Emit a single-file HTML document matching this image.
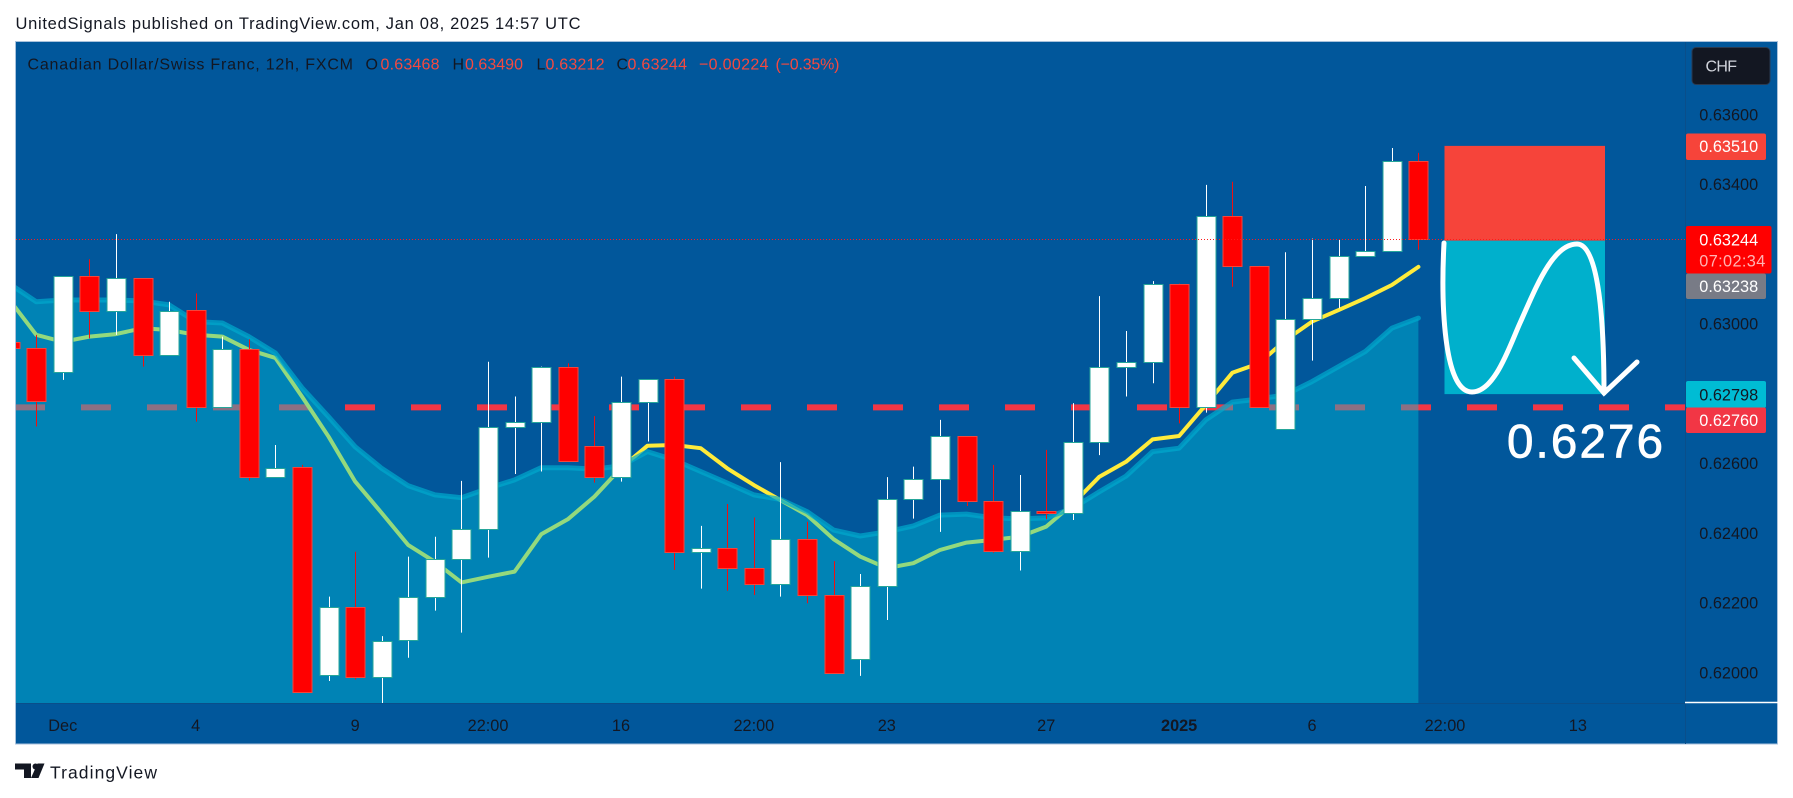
<!DOCTYPE html>
<html lang="en">
<head>
<meta charset="utf-8">
<title>CAD/CHF 12h chart</title>
<style>
html,body{margin:0;padding:0;background:#fff;width:1793px;height:798px;overflow:hidden}
svg{display:block}
text{font-family:"Liberation Sans",sans-serif}
</style>
</head>
<body>
<svg id="chart" xmlns="http://www.w3.org/2000/svg" width="1793" height="798" viewBox="0 0 1793 798">
  <defs>
    <clipPath id="pane-clip"><rect x="16" y="42" width="1670" height="661"/></clipPath>
  </defs>
  <rect x="0" y="0" width="1793" height="798" fill="#ffffff"/>
  <text x="15.5" y="29" font-size="16.5" fill="#131722" textLength="565" lengthAdjust="spacing">UnitedSignals published on TradingView.com, Jan 08, 2025 14:57 UTC</text>
  <rect x="15.5" y="41.5" width="1762" height="702.5" fill="#01579b" stroke="#a9c2dc" stroke-width="1"/>

  <g id="pane" clip-path="url(#pane-clip)"></g>

  <g>
    <rect id="stop-zone" x="1444.5" width="160.5" fill="#f6443a"/>
    <rect id="target-zone" x="1444.5" width="160.5" fill="#00b0cc"/>
    <path d="M1444 243 C1441 300,1443 392,1472 392 C1495 392,1510 345,1520 323 C1535 290,1552 244,1577 244 C1600 244,1604 330,1604 393" fill="none" stroke="#ffffff" stroke-width="5" stroke-linecap="round"/>
    <path d="M1574 358 L1604 393 L1637 362" fill="none" stroke="#ffffff" stroke-width="5" stroke-linecap="round" stroke-linejoin="miter"/>
    <text x="1507" y="457.5" font-size="47.5" fill="#ffffff" stroke="#ffffff" stroke-width="0.8" textLength="156" lengthAdjust="spacing">0.6276</text>
  </g>

  <line x1="16" x2="1686" y1="239.5" y2="239.5" stroke="#ff1a1a" stroke-width="1" stroke-dasharray="1 2"/>

  <g font-size="16">
    <text x="27.5" y="69.5" fill="#131722" textLength="325.5" lengthAdjust="spacing">Canadian Dollar/Swiss Franc, 12h, FXCM</text>
    <text x="365.5" y="69.5" fill="#131722">O</text>
    <text x="380.5" y="69.5" fill="#f6493f" textLength="59" lengthAdjust="spacing">0.63468</text>
    <text x="452.5" y="69.5" fill="#131722">H</text>
    <text x="465" y="69.5" fill="#f6493f" textLength="58" lengthAdjust="spacing">0.63490</text>
    <text x="536.5" y="69.5" fill="#131722">L</text>
    <text x="545.5" y="69.5" fill="#f6493f" textLength="59" lengthAdjust="spacing">0.63212</text>
    <text x="616.5" y="69.5" fill="#131722">C</text>
    <text x="627.5" y="69.5" fill="#f6493f" textLength="59.5" lengthAdjust="spacing">0.63244</text>
    <text x="699" y="69.5" fill="#f6493f" textLength="69.5" lengthAdjust="spacing">−0.00224</text>
    <text x="775.5" y="69.5" fill="#f6493f" textLength="64" lengthAdjust="spacing">(−0.35%)</text>
  </g>

  <line x1="1685.5" x2="1685.5" y1="42" y2="744" stroke="#0a4e8a" stroke-width="1"/>
  <line x1="16" x2="1686" y1="703.5" y2="703.5" stroke="#0a4e8a" stroke-width="1"/>
  <line x1="1685" x2="1778" y1="702.5" y2="702.5" stroke="#ffffff" stroke-width="1.5"/>

  <g id="price-axis"></g>
  <g id="time-axis"></g>

  <g>
    <rect x="1692" y="47.5" width="78" height="37" rx="4" fill="#131722" stroke="#2a3a50" stroke-width="1"/>
    <text x="1705.5" y="71.5" font-size="16" fill="#d1d4dc" textLength="31.5" lengthAdjust="spacing">CHF</text>
  </g>

  <g font-size="16.3">
    <rect x="1686" y="133.5" width="80" height="26.5" rx="2" fill="#f6443a"/>
    <text x="1699.3" y="152.2" fill="#ffffff">0.63510</text>
    <rect x="1686" y="226" width="85.5" height="47.5" rx="2" fill="#ff0000"/>
    <text x="1699.3" y="245.5" fill="#ffffff">0.63244</text>
    <text x="1699.3" y="266.5" fill="#ffb3b3" textLength="66" lengthAdjust="spacing">07:02:34</text>
    <rect x="1686" y="273.5" width="80" height="25.5" rx="2" fill="#787b86"/>
    <text x="1699.3" y="291.8" fill="#ffffff">0.63238</text>
    <rect x="1686" y="381" width="80" height="27" rx="2" fill="#00bcd4"/>
    <text x="1699.3" y="400.3" fill="#131722">0.62798</text>
    <rect x="1686" y="407.5" width="80" height="25.5" rx="2" fill="#f23645"/>
    <text x="1699.3" y="425.8" fill="#ffffff">0.62760</text>
  </g>

  <g>
    <path d="M15 763.5 H31 V778 H24 V769.5 H15 Z" fill="#131722"/>
    <circle cx="35.5" cy="766.5" r="3" fill="#131722"/>
    <path d="M37.5 763.5 H44.5 L38.5 778 H31 Z" fill="#131722"/>
    <text x="50" y="778.5" font-size="17.5" fill="#131722" textLength="107" lengthAdjust="spacing">TradingView</text>
  </g>
</svg>

<script>
// Chart data
const opens = [.62947,.62929,.62861,.63136,.63036,.63130,.62911,.63038,.62760,.62927,.62560,.62588,.61992,.62187,.61986,.62093,.62217,.62326,.62412,.62705,.62719,.62877,.62648,.62560,.62776,.62841,.62344,.62358,.62299,.62253,.62383,.62221,.62038,.62249,.62496,.62554,.62677,.62491,.62347,.62464,.62458,.62660,.62877,.62891,.63115,.62760,.63310,.63166,.62697,.63014,.63075,.63195,.63209,.63468];
const highs = [.62947,.62968,.63136,.63185,.63257,.63130,.63063,.63087,.62963,.62955,.62652,.62595,.62217,.62346,.62104,.62332,.62389,.62549,.62891,.62791,.62877,.62886,.62735,.62848,.62841,.62848,.62420,.62483,.62444,.62603,.62432,.62319,.62282,.62560,.62590,.62724,.62677,.62595,.62566,.62638,.62772,.63079,.62979,.63122,.63115,.63398,.63407,.63166,.63205,.63244,.63242,.63395,.63504,.63490];
const lows = [.62929,.62705,.62839,.62958,.62968,.62877,.62911,.62719,.62760,.62550,.62560,.61945,.61975,.61980,.61910,.62042,.62177,.62114,.62329,.62569,.62576,.62607,.62544,.62547,.62662,.62294,.62240,.62234,.62222,.62217,.62198,.61999,.61990,.62150,.62441,.62403,.62477,.62343,.62292,.62439,.62437,.62623,.62791,.62829,.62714,.62745,.63106,.62760,.62697,.62894,.63044,.63195,.63209,.63212];
const closes = [.62929,.62777,.63136,.63036,.63130,.62911,.63037,.62760,.62927,.62560,.62587,.61945,.62186,.61986,.62091,.62217,.62326,.62412,.62705,.62719,.62877,.62607,.62560,.62776,.62841,.62344,.62358,.62299,.62253,.62383,.62221,.61999,.62249,.62496,.62554,.62677,.62491,.62347,.62464,.62458,.62660,.62877,.62891,.63115,.62760,.63310,.63166,.62760,.63014,.63075,.63195,.63209,.63466,.63244];
const slowAverage = [.63114,.63063,.63068,.63068,.63068,.63065,.63054,.63006,.63002,.62963,.62916,.62816,.62733,.62647,.62585,.62535,.62509,.62501,.62528,.62552,.62587,.62587,.62583,.62592,.62633,.62609,.62576,.62543,.62509,.62496,.62461,.62408,.62391,.62403,.62420,.62451,.62454,.62443,.62440,.62443,.62471,.62518,.62563,.62633,.62643,.62724,.62775,.62784,.62796,.62834,.62877,.62920,.62987,.63016];
const fastAverage = [.63068,.62968,.62948,.62963,.62970,.62987,.62982,.62968,.62963,.62925,.62902,.62791,.62676,.62547,.62457,.62365,.62317,.62258,.62274,.62289,.62396,.62439,.62504,.62586,.62650,.62652,.62643,.62585,.62537,.62494,.62451,.62382,.62332,.62299,.62313,.62351,.62372,.62380,.62389,.62418,.62483,.62561,.62604,.62668,.62678,.62767,.62859,.62886,.62953,.63006,.63039,.63073,.63111,.63163];
const priceTicks = [.636,.634,.630,.626,.624,.622,.620];
const priceTickLabels = ['0.63600','0.63400','0.63000','0.62600','0.62400','0.62200','0.62000'];
const timeTickBars = [2,7,13,18,23,28,33,39,44,49,54,59];
const timeTickLabels = ['Dec','4','9','22:00','16','22:00','23','27','2025','6','22:00','13'];
const dashedLevel = .6276;
const stopPrice = .6351;
const entryPrice = .63238;
const targetPrice = .62798;

// Axis functions
function xScale(bar){ return 36.2 + (bar - 1) * 26.58; }
function yScale(price){ return 114.5 + (0.636 - price) / 0.002 * 69.73; }

const NS = 'http://www.w3.org/2000/svg';
const pane = document.getElementById('pane');
const PANE_BOTTOM = 703;

function pointsOf(series){
  return series.map(function(v, i){ return xScale(i).toFixed(1) + ',' + yScale(v).toFixed(1); });
}

// Dashed horizontal level (under the indicator area)
const level = document.createElementNS(NS, 'line');


level.setAttribute('x1', 15);
level.setAttribute('x2', 1686);
level.setAttribute('y1', yScale(dashedLevel));
level.setAttribute('y2', yScale(dashedLevel));
level.setAttribute('stroke', '#f23645');
level.setAttribute('stroke-width', 6);
level.setAttribute('stroke-dasharray', '30 36');
pane.appendChild(level);

// Fast average drawn under the translucent area: it reads yellow outside, green inside
const fastLine = document.createElementNS(NS, 'polyline');


fastLine.setAttribute('points', pointsOf(fastAverage).join(' '));
fastLine.setAttribute('fill', 'none');
fastLine.setAttribute('stroke', '#ffeb3b');
fastLine.setAttribute('stroke-width', 4);
fastLine.setAttribute('stroke-linejoin', 'round');
fastLine.setAttribute('stroke-linecap', 'round');
pane.appendChild(fastLine);

// Slow average area
const lastBar = slowAverage.length - 1;
const area = document.createElementNS(NS, 'polygon');


area.setAttribute('points', pointsOf(slowAverage).join(' ') + ' ' + xScale(lastBar).toFixed(1) + ',' + PANE_BOTTOM + ' ' + xScale(0).toFixed(1) + ',' + PANE_BOTTOM);
area.setAttribute('fill', 'rgba(0,192,217,0.42)');
pane.appendChild(area);

const slowLine = document.createElementNS(NS, 'polyline');


slowLine.setAttribute('points', pointsOf(slowAverage).join(' '));
slowLine.setAttribute('fill', 'none');
slowLine.setAttribute('stroke', 'rgba(0,170,205,0.7)');
slowLine.setAttribute('stroke-width', 5);
slowLine.setAttribute('stroke-linejoin', 'round');
slowLine.setAttribute('stroke-linecap', 'round');
pane.appendChild(slowLine);

// Candles
opens.forEach(function(open, i){
  const close = closes[i];
  const up = close >= open;
  const cx = Math.round(xScale(i)) + 0.5;
  const top = yScale(Math.max(open, close));
  const bottom = yScale(Math.min(open, close));

  const wick = document.createElementNS(NS, 'line');
  
  
  wick.setAttribute('x1', cx);
  wick.setAttribute('x2', cx);
  wick.setAttribute('y1', yScale(highs[i]));
  wick.setAttribute('y2', yScale(lows[i]));
  wick.setAttribute('stroke', up ? '#ffffff' : '#f01010');
  wick.setAttribute('stroke-width', 1);
  pane.appendChild(wick);

  const body = document.createElementNS(NS, 'rect');
  
  
  body.setAttribute('x', cx - 9.5);
  body.setAttribute('y', Math.round(top) + 0.5);
  body.setAttribute('width', 19);
  body.setAttribute('height', Math.max(1, Math.round(bottom) - Math.round(top)));
  body.setAttribute('fill', up ? '#ffffff' : '#ff0000');
  body.setAttribute('stroke', up ? '#26a69a' : '#f6443a');
  body.setAttribute('stroke-width', 1);
  pane.appendChild(body);
});

// Trade zones from their price levels
const stopZone = document.getElementById('stop-zone');
stopZone.setAttribute('y', yScale(stopPrice));
stopZone.setAttribute('height', yScale(entryPrice) - yScale(stopPrice));
const targetZone = document.getElementById('target-zone');
targetZone.setAttribute('y', yScale(entryPrice));
targetZone.setAttribute('height', yScale(targetPrice) - yScale(entryPrice));

// Price axis labels
const priceAxis = document.getElementById('price-axis');
priceTicks.forEach(function(p, i){
  const t = document.createElementNS(NS, 'text');
  
  
  t.setAttribute('x', 1699.3);
  t.setAttribute('y', yScale(p) + 6);
  t.setAttribute('font-size', '16.3');
  t.setAttribute('fill', '#131722');
  t.textContent = priceTickLabels[i];
  priceAxis.appendChild(t);
});

// Time axis labels
const timeAxis = document.getElementById('time-axis');
timeTickBars.forEach(function(bar, i){
  const t = document.createElementNS(NS, 'text');
  
  
  t.setAttribute('x', xScale(bar));
  t.setAttribute('y', 731);
  t.setAttribute('font-size', '16.3');
  t.setAttribute('text-anchor', 'middle');
  t.setAttribute('fill', '#131722');
  if (timeTickLabels[i] === '2025') { t.setAttribute('font-weight', 'bold'); }
  t.textContent = timeTickLabels[i];
  timeAxis.appendChild(t);
});
</script>
</body>
</html>
